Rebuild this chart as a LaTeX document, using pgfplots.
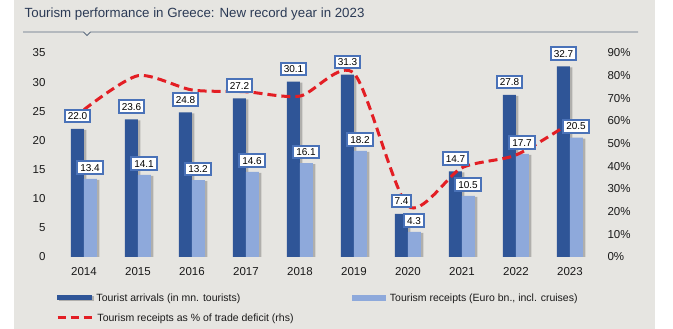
\documentclass[border=0pt]{standalone}
\usepackage{fontspec}
\setmainfont{Liberation Sans}
\usepackage{pgfplots}
\usepackage{pgfplotstable}
\pgfplotsset{compat=1.18}
\usetikzlibrary{shadows}
\definecolor{bgc}{HTML}{E6E5E1}
\definecolor{darkbar}{HTML}{2F5597}
\definecolor{lightbar}{HTML}{8EA9DB}
\definecolor{lblborder}{HTML}{4A72B8}
\definecolor{redline}{HTML}{E31E24}
\definecolor{titlec}{HTML}{2B3A55}
\definecolor{rulec}{HTML}{5B6B80}
\definecolor{txt}{HTML}{1A1A1A}

\pgfplotstableread{
x arr rec pct
0 22.0 13.4 65
1 23.6 14.1 80
2 24.8 13.2 73.7
3 27.2 14.6 72.9
4 30.1 16.1 71
5 31.3 18.2 81
6 7.4 4.3 22.5
7 14.7 10.5 39.4
8 27.8 17.7 45
9 32.7 20.5 59.1
}\datatable

\tikzset{
  lbl/.style={draw=lblborder, line width=2pt, fill=white,
    font=\fontsize{10}{11}\selectfont, text=black,
    inner xsep=2.9pt, inner ysep=2.65pt, text height=7.2pt, text depth=0pt,
    anchor=south, yshift=5pt},
}
\pgfplotsset{
  base/.style={at={(57pt,72pt)}, anchor=south west, scale only axis,
    width=540pt, height=204pt, xmin=-0.5, xmax=9.5,
    axis line style={draw=none}, major tick style={draw=none},
    /pgf/number format/assume math mode=true,
    tick label style={font=\fontsize{11.5}{13}\selectfont, text=txt},
    legend style={draw=none, fill=none, inner sep=0pt, outer sep=0pt,
      at={(0,0)}, anchor=west, column sep=4.5pt,
      nodes={inner sep=0pt, font=\fontsize{10.5}{12}\selectfont, text=txt}},
    legend cell align=left},
}

\begin{document}
\begin{tikzpicture}
\useasboundingbox (0,0) rectangle (673pt,329pt);
\fill[white] (0,0) rectangle (673pt,329pt);
\fill[bgc] (13.5pt,0) rectangle (655pt,329pt);
\draw[rulec, line width=0.9pt] (23pt,297pt) -- (83.5pt,297pt) -- (87pt,293.5pt) -- (90.5pt,297pt) -- (638pt,297pt);
\node[anchor=base west, inner sep=0pt, font=\fontsize{13.3}{15}\selectfont, text=titlec] at (24.5pt,311pt) {Tourism performance in Greece: New record year in 2023};

% axis 1: bars
\begin{axis}[base, ymin=0, ymax=35, ytick={0,5,...,35},
  xtick={0,...,9}, xticklabels={2014,2015,2016,2017,2018,2019,2020,2021,2022,2023},
  yticklabel style={xshift=-8pt}, xticklabel style={yshift=-7pt},
  legend style={yshift=-41pt},
  legend image code/.code={\fill[darkbar] (0pt,-2.5pt) rectangle (35pt,2.5pt);}]
\draw[black!22, line width=0.8pt] (rel axis cs:0,0) -- (rel axis cs:1,0);
\addplot[ybar, bar width=13pt, bar shift=-6.5pt, fill=darkbar, draw=none,
  drop shadow={shadow xshift=2.5pt, shadow yshift=-1pt, opacity=0.35, fill=black!70}]
  table[x=x, y=arr] {\datatable};
\addlegendentry{Tourist arrivals (in mn. tourists)}
\addplot[ybar, bar width=13pt, bar shift=6.5pt, fill=lightbar, draw=none, forget plot,
  drop shadow={shadow xshift=2.5pt, shadow yshift=-1pt, opacity=0.35, fill=black!70}]
  table[x=x, y=rec] {\datatable};
\end{axis}

% axis 2: line (rhs)
\begin{axis}[base, ymin=0, ymax=90, ytick={0,10,...,90}, xtick=\empty,
  yticklabel pos=right, yticklabel={\pgfmathprintnumber{\tick}\%},
  yticklabel style={xshift=7pt},
  legend style={xshift=-1pt, yshift=-61pt},
  legend image code/.code={\draw[redline, line width=3pt, dash pattern=on 8pt off 5pt] (0pt,0pt) -- (34pt,0pt);}]
\addplot[redline, line width=3pt, smooth, tension=0.45, dash pattern=on 9pt off 5pt]
  table[x=x, y=pct] {\datatable};
\addlegendentry{Tourism receipts as \% of trade deficit (rhs)}
\end{axis}

% axis 3: data labels
\begin{axis}[base, ymin=0, ymax=35, xtick=\empty, ytick=\empty,
  legend style={xshift=295pt, yshift=-41pt},
  legend image code/.code={\fill[lightbar] (0pt,-2.5pt) rectangle (33pt,2.5pt);}]
\addlegendimage{}
\addlegendentry{Tourism receipts (Euro bn., incl. cruises)}
\addplot[ybar, bar width=13pt, bar shift=-6.5pt, draw=none, fill=none, forget plot,
  nodes near coords={\pgfmathprintnumber[fixed,fixed zerofill,precision=1]{\pgfplotspointmeta}},
  every node near coord/.append style={lbl, xshift=-6.5pt, yshift=0.5pt}]
  table[x=x, y=arr] {\datatable};
\addplot[ybar, bar width=13pt, bar shift=6.5pt, draw=none, fill=none, forget plot,
  nodes near coords={\pgfmathprintnumber[fixed,fixed zerofill,precision=1]{\pgfplotspointmeta}},
  every node near coord/.append style={lbl, xshift=6pt, yshift=-1pt}]
  table[x=x, y=rec] {\datatable};
\end{axis}
\end{tikzpicture}
\end{document}
